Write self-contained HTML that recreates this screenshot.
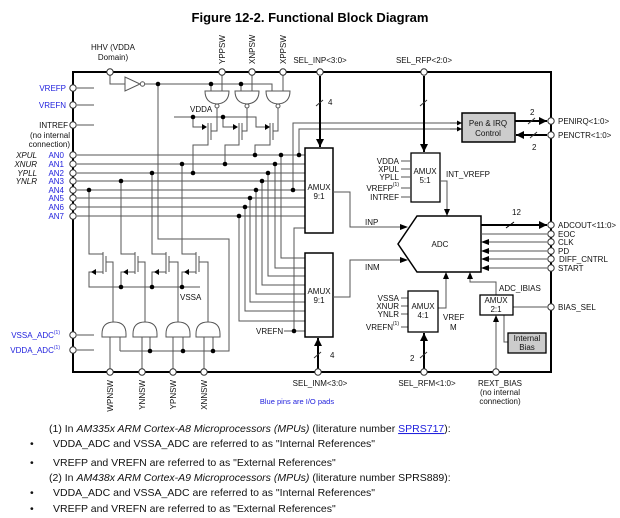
<!DOCTYPE html>
<html><head><meta charset="utf-8"><style>
html,body{margin:0;padding:0;background:#fff;}
svg{display:block;font-family:"Liberation Sans",sans-serif;}
.w{stroke:#555;stroke-width:1;fill:none;}
.k{stroke:#000;fill:none;}
.t{font-size:8px;fill:#111;}
.b{font-size:8px;fill:#2222dd;}
.i{font-size:8px;fill:#111;font-style:italic;}
.f{font-size:10.5px;fill:#111;}
</style></head><body>
<svg width="620" height="518" viewBox="0 0 620 518" xmlns="http://www.w3.org/2000/svg">
<defs>
<marker id="a" viewBox="0 0 10 10" refX="10" refY="5" markerWidth="4" markerHeight="4" orient="auto"><path d="M0,0L10,5L0,10z" fill="#000"/></marker>
<marker id="s" viewBox="0 0 10 10" refX="10" refY="5" markerWidth="5" markerHeight="5" orient="auto"><path d="M0,0L10,5L0,10z" fill="#000"/></marker>
</defs>
<text x="310" y="22" text-anchor="middle" font-size="13" font-weight="bold">Figure 12-2. Functional Block Diagram</text>

<!-- outer box -->
<rect x="73" y="72" width="478" height="300" fill="none" stroke="#000" stroke-width="2"/>

<!-- left pins -->
<g class="w">
<line x1="77" y1="88" x2="94" y2="88"/><line x1="77" y1="105" x2="94" y2="105"/><line x1="77" y1="125" x2="94" y2="125"/>
<line x1="77" y1="335" x2="94" y2="335"/><line x1="77" y1="350" x2="94" y2="350"/>
<line x1="77" y1="155" x2="305" y2="155"/><line x1="77" y1="164" x2="305" y2="164"/>
<line x1="77" y1="173" x2="305" y2="173"/><line x1="77" y1="181" x2="305" y2="181"/>
<line x1="77" y1="190" x2="305" y2="190"/><line x1="77" y1="198" x2="305" y2="198"/>
<line x1="77" y1="207" x2="305" y2="207"/><line x1="77" y1="216" x2="305" y2="216"/>
</g>
<g fill="#fff" stroke="#333">
<circle cx="73" cy="88" r="3.2"/><circle cx="73" cy="105" r="3.2"/><circle cx="73" cy="125" r="3.2"/>
<circle cx="73" cy="155" r="3.2"/><circle cx="73" cy="164" r="3.2"/><circle cx="73" cy="173" r="3.2"/><circle cx="73" cy="181" r="3.2"/>
<circle cx="73" cy="190" r="3.2"/><circle cx="73" cy="198" r="3.2"/><circle cx="73" cy="207" r="3.2"/><circle cx="73" cy="216" r="3.2"/>
<circle cx="73" cy="335" r="3.2"/><circle cx="73" cy="350" r="3.2"/>
</g>
<g text-anchor="end">
<text class="b" x="66" y="91">VREFP</text><text class="b" x="66" y="108">VREFN</text>
<text class="t" x="68" y="128">INTREF</text><text class="t" x="70" y="138">(no internal</text><text class="t" x="70" y="147">connection)</text>
<text class="b" x="64" y="158">AN0</text><text class="b" x="64" y="167">AN1</text><text class="b" x="64" y="176">AN2</text><text class="b" x="64" y="184">AN3</text>
<text class="b" x="64" y="193">AN4</text><text class="b" x="64" y="201">AN5</text><text class="b" x="64" y="210">AN6</text><text class="b" x="64" y="219">AN7</text>
<text class="i" x="37" y="158">XPUL</text><text class="i" x="37" y="167">XNUR</text><text class="i" x="37" y="176">YPLL</text><text class="i" x="37" y="184">YNLR</text>
<text class="b" x="60" y="338">VSSA_ADC<tspan font-size="5" dy="-4">(1)</tspan></text>
<text class="b" x="60" y="353">VDDA_ADC<tspan font-size="5" dy="-4">(1)</tspan></text>
</g>

<!-- top pins -->
<text class="t" x="113" y="50" text-anchor="middle">HHV (VDDA</text>
<text class="t" x="113" y="60" text-anchor="middle">Domain)</text>
<text class="t" transform="translate(225,64) rotate(-90)">YPPSW</text>
<text class="t" transform="translate(255,64) rotate(-90)">XNPSW</text>
<text class="t" transform="translate(286,64) rotate(-90)">XPPSW</text>
<text class="t" x="320" y="63" text-anchor="middle">SEL_INP&lt;3:0&gt;</text>
<text class="t" x="424" y="63" text-anchor="middle">SEL_RFP&lt;2:0&gt;</text>

<g class="w">
<polyline points="110,72 110,84 125,84"/>
<polygon points="125,77 125,91 140,84"/>
<circle cx="142.5" cy="84" r="2.2" fill="#fff"/>
<polyline points="145,84 272,84 272,91"/>
<line x1="211" y1="84" x2="211" y2="91"/><line x1="241" y1="84" x2="241" y2="91"/>
<line x1="222" y1="72" x2="222" y2="91"/><line x1="252" y1="72" x2="252" y2="91"/><line x1="283" y1="72" x2="283" y2="91"/>
<path d="M205,91 L229,91 Q229,103 217,104 Q205,103 205,91Z"/><circle cx="217" cy="106" r="2" fill="#fff"/>
<path d="M235,91 L259,91 Q259,103 247,104 Q235,103 235,91Z"/><circle cx="247" cy="106" r="2" fill="#fff"/>
<path d="M266,91 L290,91 Q290,103 278,104 Q266,103 266,91Z"/><circle cx="278" cy="106" r="2" fill="#fff"/>
<polyline points="174,117 256,117 256,127 266,127"/>
<polyline points="193,117 193,127 203,127"/><polyline points="223,117 223,127 234,127"/>
<line x1="208" y1="123" x2="208" y2="140"/><line x1="211" y1="123" x2="211" y2="140"/><polyline points="211,131 217,131 217,108"/>
<polyline points="208,140 208,145 193,145 193,173"/>
<line x1="239" y1="123" x2="239" y2="140"/><line x1="242" y1="123" x2="242" y2="140"/><polyline points="242,131 247,131 247,108"/>
<polyline points="239,140 239,145 225,145 225,164"/>
<line x1="270" y1="123" x2="270" y2="140"/><line x1="273" y1="123" x2="273" y2="140"/><polyline points="273,131 278,131 278,108"/>
<polyline points="270,140 270,145 255,145 255,155"/>
<polyline points="158,84 158,239 229,239 229,351 120,351"/>
<polyline points="89,190 89,254 103,254"/><polyline points="121,181 121,254 135,254"/><polyline points="152,173 152,254 166,254"/><polyline points="182,164 182,254 196,254"/>
<line x1="103" y1="252" x2="103" y2="274"/><line x1="106" y1="256" x2="106" y2="272"/>
<line x1="135" y1="252" x2="135" y2="274"/><line x1="138" y1="256" x2="138" y2="272"/>
<line x1="166" y1="252" x2="166" y2="274"/><line x1="169" y1="256" x2="169" y2="272"/>
<line x1="196" y1="252" x2="196" y2="274"/><line x1="199" y1="256" x2="199" y2="272"/>
<polyline points="103,272 89,272 89,287 200,287"/>
<polyline points="135,272 121,272 121,287"/><polyline points="166,272 152,272 152,287"/><polyline points="196,272 182,272 182,287"/>
<polyline points="106,262 113,262 113,322"/><polyline points="138,262 145,262 145,322"/><polyline points="169,262 178,262 178,322"/><polyline points="199,262 208,262 208,322"/>
<path d="M102,337 L126,337 L126,334 Q126,322 114,322 Q102,322 102,334Z"/>
<path d="M133,337 L157,337 L157,334 Q157,322 145,322 Q133,322 133,334Z"/>
<path d="M166,337 L190,337 L190,334 Q190,322 178,322 Q166,322 166,334Z"/>
<path d="M196,337 L220,337 L220,334 Q220,322 208,322 Q196,322 196,334Z"/>
<line x1="110" y1="337" x2="110" y2="372"/><line x1="120" y1="337" x2="120" y2="351"/>
<line x1="142" y1="337" x2="142" y2="372"/><line x1="150" y1="337" x2="150" y2="351"/>
<line x1="173" y1="337" x2="173" y2="372"/><line x1="183" y1="337" x2="183" y2="351"/>
<line x1="204" y1="337" x2="204" y2="372"/><line x1="213" y1="337" x2="213" y2="351"/>
<polyline points="281,155 281,258 305,258"/><polyline points="275,164 275,268 305,268"/>
<polyline points="268,173 268,276 305,276"/><polyline points="262,181 262,285 305,285"/>
<polyline points="256,190 256,294 305,294"/><polyline points="250,198 250,302 305,302"/>
<polyline points="245,207 245,311 305,311"/><polyline points="239,216 239,321 305,321"/>
<polyline points="305,228 294,228 294,331"/><line x1="284" y1="331" x2="305" y2="331"/>
<polyline points="293,190 293,123 455,123"/><polyline points="299,155 299,129 455,129"/>
</g>
<line x1="450" y1="123" x2="462" y2="123" stroke="#333" marker-end="url(#s)"/>
<line x1="450" y1="129" x2="462" y2="129" stroke="#333" marker-end="url(#s)"/>
<text class="t" x="190" y="112">VDDA</text>
<text class="t" x="180" y="300">VSSA</text>
<text class="t" x="256" y="334">VREFN</text>
<g fill="#000">
<path d="M202,124L207,127L202,130z"/><path d="M233,124L238,127L233,130z"/><path d="M265,124L270,127L265,130z"/>
<path d="M96,269L91,272L96,275z"/><path d="M128,269L123,272L128,275z"/><path d="M159,269L154,272L159,275z"/><path d="M189,269L184,272L189,275z"/>
</g>
<g fill="#000">
<circle cx="158" cy="84" r="2.3"/><circle cx="211" cy="84" r="2.3"/><circle cx="241" cy="84" r="2.3"/>
<circle cx="193" cy="117" r="2.3"/><circle cx="223" cy="117" r="2.3"/>
<circle cx="255" cy="155" r="2.3"/><circle cx="281" cy="155" r="2.3"/><circle cx="299" cy="155" r="2.3"/>
<circle cx="182" cy="164" r="2.3"/><circle cx="225" cy="164" r="2.3"/><circle cx="275" cy="164" r="2.3"/>
<circle cx="152" cy="173" r="2.3"/><circle cx="193" cy="173" r="2.3"/><circle cx="268" cy="173" r="2.3"/>
<circle cx="121" cy="181" r="2.3"/><circle cx="262" cy="181" r="2.3"/>
<circle cx="89" cy="190" r="2.3"/><circle cx="256" cy="190" r="2.3"/><circle cx="293" cy="190" r="2.3"/>
<circle cx="250" cy="198" r="2.3"/><circle cx="245" cy="207" r="2.3"/><circle cx="239" cy="216" r="2.3"/>
<circle cx="121" cy="287" r="2.3"/><circle cx="152" cy="287" r="2.3"/><circle cx="182" cy="287" r="2.3"/>
<circle cx="150" cy="351" r="2.3"/><circle cx="183" cy="351" r="2.3"/><circle cx="213" cy="351" r="2.3"/>
<circle cx="294" cy="331" r="2.3"/>
</g>

<rect x="305" y="148" width="28" height="85" fill="#fff" stroke="#000" stroke-width="1.5"/>
<rect x="305" y="253" width="28" height="84" fill="#fff" stroke="#000" stroke-width="1.5"/>
<text class="t" x="319" y="190" text-anchor="middle">AMUX</text><text class="t" x="319" y="199" text-anchor="middle">9:1</text>
<text class="t" x="319" y="294" text-anchor="middle">AMUX</text><text class="t" x="319" y="303" text-anchor="middle">9:1</text>
<line x1="320" y1="76" x2="320" y2="147" stroke="#000" stroke-width="2" marker-end="url(#a)"/>
<line x1="318" y1="371" x2="318" y2="338" stroke="#000" stroke-width="2" marker-end="url(#a)"/>
<line x1="424" y1="76" x2="424" y2="152" stroke="#000" stroke-width="2" marker-end="url(#a)"/>
<line x1="424" y1="371" x2="424" y2="333" stroke="#000" stroke-width="2" marker-end="url(#a)"/>
<g stroke="#333"><line x1="316" y1="106" x2="323" y2="100"/><line x1="420" y1="106" x2="427" y2="100"/>
<line x1="314" y1="358" x2="321" y2="352"/><line x1="420" y1="358" x2="427" y2="352"/></g>
<text class="t" x="328" y="105">4</text><text class="t" x="330" y="358">4</text><text class="t" x="410" y="361">2</text>

<rect x="462" y="113" width="53" height="29" fill="#ccc" stroke="#000" stroke-width="1.5"/>
<text class="t" x="488" y="126" text-anchor="middle">Pen &amp; IRQ</text><text class="t" x="488" y="136" text-anchor="middle">Control</text>
<line x1="515" y1="121" x2="547" y2="121" stroke="#000" stroke-width="2" marker-end="url(#a)"/>
<line x1="547" y1="135" x2="516" y2="135" stroke="#000" stroke-width="2" marker-end="url(#a)"/>
<g stroke="#333"><line x1="528" y1="124" x2="535" y2="118"/><line x1="530" y1="138" x2="537" y2="132"/><line x1="506" y1="228" x2="514" y2="222" stroke="#000"/></g>
<text class="t" x="530" y="115">2</text><text class="t" x="532" y="150">2</text>

<rect x="411" y="153" width="29" height="49" fill="#fff" stroke="#000" stroke-width="1.3"/>
<text class="t" x="425" y="174" text-anchor="middle">AMUX</text><text class="t" x="425" y="183" text-anchor="middle">5:1</text>
<g class="w"><line x1="401" y1="161" x2="411" y2="161"/><line x1="401" y1="169" x2="411" y2="169"/><line x1="401" y1="177" x2="411" y2="177"/><line x1="401" y1="188" x2="411" y2="188"/><line x1="401" y1="197" x2="411" y2="197"/>
<polyline points="440,181 447,181 447,210"/>
<polyline points="333,192 350,192 350,227 400,227"/><polyline points="333,297 350,297 350,260 400,260"/>
<polyline points="438,308 446,308 446,278"/>
<polyline points="496,295 496,282 470,282 470,278"/>
<line x1="513" y1="307" x2="547" y2="307"/><polyline points="504,315 504,342 508,342"/>
<line x1="496" y1="372" x2="496" y2="321"/>
<line x1="401" y1="298" x2="408" y2="298"/><line x1="401" y1="306" x2="408" y2="306"/><line x1="401" y1="314" x2="408" y2="314"/><line x1="401" y1="327" x2="408" y2="327"/>
</g>
<g fill="#000"><path d="M444,209L450,209L447,216z"/><path d="M400,224L408,227L400,230z"/><path d="M400,257L408,260L400,263z"/>
<path d="M443,279L449,279L446,272z"/><path d="M467,279L473,279L470,272z"/><path d="M493,322L499,322L496,315z"/></g>
<g text-anchor="end"><text class="t" x="399" y="164">VDDA</text><text class="t" x="399" y="172">XPUL</text><text class="t" x="399" y="180">YPLL</text>
<text class="t" x="393" y="191">VREFP</text><text font-size="5" x="399" y="186">(1)</text><text class="t" x="399" y="200">INTREF</text>
<text class="t" x="399" y="301">VSSA</text><text class="t" x="399" y="309">XNUR</text><text class="t" x="399" y="317">YNLR</text>
<text class="t" x="393" y="330">VREFN</text><text font-size="5" x="399" y="325">(1)</text></g>
<text class="t" x="446" y="177">INT_VREFP</text>
<text class="t" x="365" y="225">INP</text><text class="t" x="365" y="270">INM</text>

<polygon points="417,216 481,216 481,272 417,272 398,244" fill="#fff" stroke="#000" stroke-width="1.5"/>
<text class="t" x="440" y="247" text-anchor="middle">ADC</text>
<line x1="481" y1="225" x2="547" y2="225" stroke="#000" stroke-width="2" marker-end="url(#a)"/>
<text class="t" x="512" y="215">12</text>
<g class="w"><line x1="481" y1="234" x2="547" y2="234"/><line x1="488" y1="242" x2="547" y2="242"/><line x1="488" y1="251" x2="547" y2="251"/><line x1="488" y1="259" x2="547" y2="259"/><line x1="488" y1="268" x2="547" y2="268"/></g>
<g fill="#000"><path d="M489,239L481,242L489,245z"/><path d="M489,248L481,251L489,254z"/><path d="M489,256L481,259L489,262z"/><path d="M489,265L481,268L489,271z"/></g>

<rect x="408" y="291" width="30" height="41" fill="#fff" stroke="#000" stroke-width="1.3"/>
<text class="t" x="423" y="309" text-anchor="middle">AMUX</text><text class="t" x="423" y="318" text-anchor="middle">4:1</text>
<text class="t" x="443" y="320">VREF</text><text class="t" x="450" y="330">M</text>

<rect x="480" y="295" width="33" height="20" fill="#fff" stroke="#000" stroke-width="1.3"/>
<text class="t" x="496" y="303" text-anchor="middle">AMUX</text><text class="t" x="496" y="312" text-anchor="middle">2:1</text>
<text class="t" x="499" y="291">ADC_IBIAS</text>
<rect x="508" y="333" width="38" height="20" fill="#ccc" stroke="#000" stroke-width="1.3"/>
<text class="t" x="527" y="341" text-anchor="middle">Internal</text><text class="t" x="527" y="350" text-anchor="middle">Bias</text>

<g fill="#fff" stroke="#333">
<circle cx="551" cy="121" r="3.2"/><circle cx="551" cy="135" r="3.2"/><circle cx="551" cy="225" r="3.2"/><circle cx="551" cy="234" r="3.2"/>
<circle cx="551" cy="242" r="3.2"/><circle cx="551" cy="251" r="3.2"/><circle cx="551" cy="259" r="3.2"/><circle cx="551" cy="268" r="3.2"/><circle cx="551" cy="307" r="3.2"/>
<circle cx="110" cy="72" r="3.2"/><circle cx="222" cy="72" r="3.2"/><circle cx="252" cy="72" r="3.2"/><circle cx="283" cy="72" r="3.2"/>
<circle cx="320" cy="72" r="3.2"/><circle cx="424" cy="72" r="3.2"/>
<circle cx="110" cy="372" r="3.2"/><circle cx="142" cy="372" r="3.2"/><circle cx="173" cy="372" r="3.2"/><circle cx="204" cy="372" r="3.2"/>
<circle cx="318" cy="372" r="3.2"/><circle cx="424" cy="372" r="3.2"/><circle cx="496" cy="372" r="3.2"/>
</g>
<text class="t" x="558" y="124">PENIRQ&lt;1:0&gt;</text><text class="t" x="558" y="138">PENCTR&lt;1:0&gt;</text>
<text class="t" x="558" y="228">ADCOUT&lt;11:0&gt;</text><text class="t" x="558" y="237">EOC</text><text class="t" x="558" y="245">CLK</text>
<text class="t" x="558" y="254">PD</text><text class="t" x="559" y="262">DIFF_CNTRL</text><text class="t" x="558" y="271">START</text>
<text class="t" x="558" y="310">BIAS_SEL</text>

<text class="t" transform="translate(113,380) rotate(-90)" text-anchor="end">WPNSW</text>
<text class="t" transform="translate(145,380) rotate(-90)" text-anchor="end">YNNSW</text>
<text class="t" transform="translate(176,380) rotate(-90)" text-anchor="end">YPNSW</text>
<text class="t" transform="translate(207,380) rotate(-90)" text-anchor="end">XNNSW</text>
<text class="t" x="320" y="386" text-anchor="middle">SEL_INM&lt;3:0&gt;</text>
<text class="t" x="427" y="386" text-anchor="middle">SEL_RFM&lt;1:0&gt;</text>
<text class="t" x="500" y="386" text-anchor="middle">REXT_BIAS</text>
<text class="t" x="500" y="395" text-anchor="middle">(no internal</text>
<text class="t" x="500" y="404" text-anchor="middle">connection)</text>
<text font-size="7.5" fill="#2222dd" x="297" y="404" text-anchor="middle">Blue pins are I/O pads</text>

<text class="f" x="49" y="432">(1)   In <tspan font-style="italic">AM335x ARM Cortex-A8 Microprocessors (MPUs)</tspan> (literature number <tspan fill="#2222dd" text-decoration="underline">SPRS717</tspan>):</text>
<text class="f" x="30" y="447">•</text><text class="f" x="53" y="447">VDDA_ADC and VSSA_ADC are referred to as "Internal References"</text>
<text class="f" x="30" y="466">•</text><text class="f" x="53" y="466">VREFP and VREFN are referred to as "External References"</text>
<text class="f" x="49" y="481">(2)   In <tspan font-style="italic">AM438x ARM Cortex-A9 Microprocessors (MPUs)</tspan> (literature number SPRS889):</text>
<text class="f" x="30" y="496">•</text><text class="f" x="53" y="496">VDDA_ADC and VSSA_ADC are referred to as "Internal References"</text>
<text class="f" x="30" y="512">•</text><text class="f" x="53" y="512">VREFP and VREFN are referred to as "External References"</text>
</svg>
</body></html>
